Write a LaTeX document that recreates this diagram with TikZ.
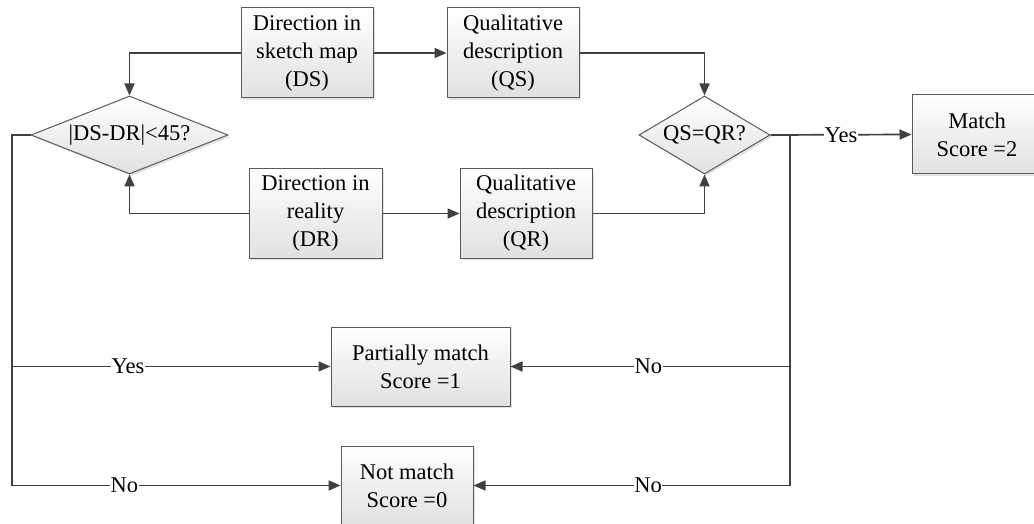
\documentclass[tikz,border=0pt]{standalone}
\usepackage{fontspec}
\setmainfont{Liberation Serif}
\usetikzlibrary{arrows.meta,shapes.geometric,shadows}
\definecolor{linec}{HTML}{404040}
\definecolor{borderc}{HTML}{5A5A5A}
\begin{document}
\begin{tikzpicture}[x=1pt,y=-1pt,
  every node/.style={font=\fontsize{22.5}{28}\selectfont},
  boxnode/.style={rectangle,draw=borderc,line width=1pt,align=center,inner sep=0pt,
    top color=white,bottom color=black!12,
    drop shadow={shadow xshift=2pt,shadow yshift=-2pt,fill=black!22}},
  decnode/.style={diamond,draw=borderc,line width=1pt,align=center,inner sep=0pt,
    top color=white,bottom color=black!12,
    drop shadow={shadow xshift=2pt,shadow yshift=-2pt,fill=black!22}},
  conn/.style={draw=linec,line width=1.7pt},
  arr/.style={conn,-{Triangle[length=12pt,width=10pt]}},
  lab/.style={fill=white,inner sep=0.5pt}]
\useasboundingbox (0,0) rectangle (1034,524);
\fill[white] (0,0) rectangle (1034,524);

\node[boxnode,minimum width=132pt,minimum height=90pt] (ds) at (307,53) {Direction in\\sketch map\\(DS)};
\node[boxnode,minimum width=132pt,minimum height=90pt] (qs) at (513,53) {Qualitative\\description\\(QS)};
\node[boxnode,minimum width=133pt,minimum height=89pt] (dr) at (315.5,213.5) {Direction in\\reality\\(DR)};
\node[boxnode,minimum width=132pt,minimum height=89pt] (qr) at (526,213.5) {Qualitative\\description\\(QR)};
\node[decnode,aspect=2.53,minimum width=197pt,minimum height=78pt] (d1) at (129.5,135) {|DS-DR|<45?};
\node[decnode,aspect=1.68,minimum width=131pt,minimum height=78pt] (d2) at (704.5,135) {QS=QR?};
\node[boxnode,minimum width=130pt,minimum height=79pt] (mt) at (977,134.5) {Match\\Score =2};
\node[boxnode,minimum width=179pt,minimum height=79pt] (pm) at (420.5,366.5) {Partially match\\Score =1};
\node[boxnode,minimum width=132pt,minimum height=79pt] (nm) at (407,485.5) {Not match\\Score =0};

\coordinate (lT) at (12,135);
\coordinate (lY) at (12,366.5);
\coordinate (lN) at (12,485.5);
\coordinate (rT) at (790,135);
\coordinate (rY) at (790,366.5);
\coordinate (rN) at (790,485.5);

\draw[arr] (ds.west) -| (d1.north);
\draw[arr] (ds.east) -- (qs.west);
\draw[arr] (qs.east) -| (d2.north);
\draw[arr] (dr.west) -| (d1.south);
\draw[arr] (dr.east) -- (qr.west);
\draw[arr] (qr.east) -| (d2.south);

\draw[conn] (d1.west) -- (lT) -- (lN);
\draw[arr] (lY) -- node[lab,pos=0.364]{Yes} (pm.west);
\draw[arr] (lN) -- node[lab,pos=0.342]{No} (nm.west);

\draw[arr] (d2.east) -- node[lab,pos=0.5]{Yes} (mt.west);
\draw[conn] (rT) -- (rN);
\draw[arr] (rY) -- node[lab,pos=0.507]{No} (pm.east);
\draw[arr] (rN) -- node[lab,pos=0.448]{No} (nm.east);
\end{tikzpicture}
\end{document}
